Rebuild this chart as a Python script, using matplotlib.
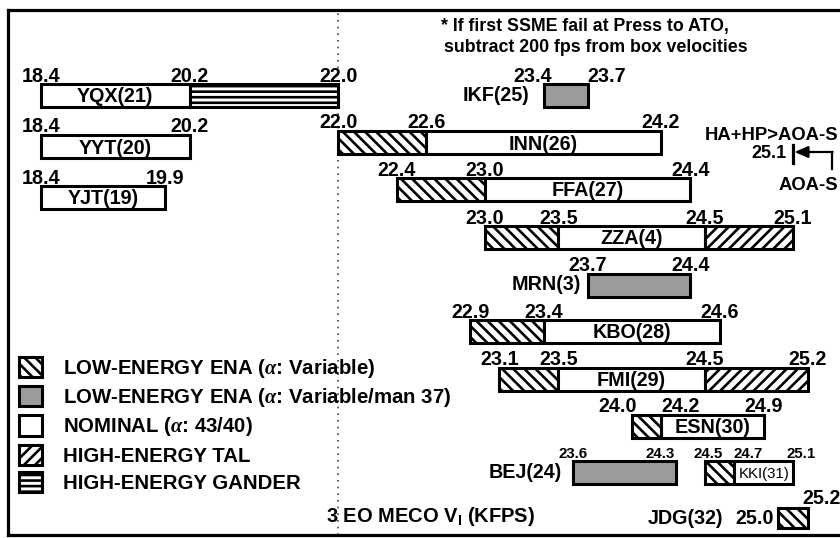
import numpy as np
import matplotlib
matplotlib.use("Agg")
import matplotlib.pyplot as plt
from matplotlib.patches import Patch

# ---------------------------------------------------------------------------
# Data: landing sites, velocity boundaries (kfps) and the option of each span
# ---------------------------------------------------------------------------

sites = ["YQX(21)", "YYT(20)", "YJT(19)", "IKF(25)", "INN(26)", "FFA(27)",
         "ZZA(4)", "MRN(3)", "KBO(28)", "FMI(29)", "ESN(30)", "BEJ(24)",
         "KKI(31)", "JDG(32)"]

bounds = [
    [18.4, 20.2, 22.0],
    [18.4, 20.2],
    [18.4, 19.9],
    [23.4, 23.7],
    [22.0, 22.6, 24.2],
    [22.4, 23.0, 24.4],
    [23.0, 23.5, 24.5, 25.1],
    [23.7, 24.4],
    [22.9, 23.4, 24.6],
    [23.1, 23.5, 24.5, 25.2],
    [24.0, 24.2, 24.9],
    [23.6, 24.3],
    [24.5, 24.7, 25.1],
    [25.0, 25.2],
]

kinds = [
    ["nom", "gander"],
    ["nom"],
    ["nom"],
    ["gray"],
    ["low", "nom"],
    ["low", "nom"],
    ["low", "nom", "tal"],
    ["gray"],
    ["low", "nom"],
    ["low", "nom", "tal"],
    ["low", "nom"],
    ["gray"],
    ["low", "nom"],
    ["low"],
]

legend_labels = [
    r"LOW-ENERGY ENA ($\alpha$: Variable)",
    r"LOW-ENERGY ENA ($\alpha$: Variable/man 37)",
    r"NOMINAL ($\alpha$: 43/40)",
    "HIGH-ENERGY TAL",
    "HIGH-ENERGY GANDER",
]
legend_kinds = ["low", "gray", "nom", "tal", "gander"]

aoa_velocity = 25.1
break_velocity = 22.0

# ---------------------------------------------------------------------------
# Styling / layout
# ---------------------------------------------------------------------------

styles = {
    "nom":    dict(facecolor="white", hatch=None),
    "low":    dict(facecolor="white", hatch="\\\\\\"),
    "gray":   dict(facecolor="#9b9b9b", hatch=None),
    "tal":    dict(facecolor="white", hatch="///"),
    "gander": dict(facecolor="white", hatch="---"),
}

# vertical row centres (pixel rows of the original slide) and bar heights
row_y = [95.5, 146.5, 197.5, 95.5, 142.5, 189.5, 237.5, 285, 331.5, 379,
         426, 472.5, 472.5, 518]
bar_h = [23] * 13 + [20]
name_pos = ["in", "in", "in", "left", "in", "in", "in", "left", "in", "in",
            "in", "left", "in", "left"]
name_gap = [0, 0, 0, 14, 0, 0, 0, 7, 0, 0, 0, 11, 0, 55]
val_size = [14.2] * 11 + [10.8, 10.8, 14.2]
name_size = [14.2] * 12 + [10.8, 14.2]
# per-label horizontal nudges (points) for crowded numbers
val_dx = {
    (3, 0): -8, (3, 1): 14,
    (10, 0): -10, (10, 1): 14,
    (11, 1): -11,
    (12, 0): 2, (12, 1): 10, (12, 2): 6,
}

plt.rcParams["font.family"] = ["Liberation Sans", "DejaVu Sans"]
plt.rcParams["font.weight"] = "bold"
plt.rcParams["mathtext.fontset"] = "custom"
plt.rcParams["mathtext.rm"] = "Liberation Sans:bold"
plt.rcParams["mathtext.bf"] = "Liberation Sans:bold"
plt.rcParams["mathtext.it"] = "Liberation Serif:italic"
plt.rcParams["hatch.linewidth"] = 1.9

K = 82.5 / 146.8   # compression of the axis left of 22.0 kfps


def fwd(v):
    v = np.asarray(v, dtype=float)
    return np.where(v < break_velocity, break_velocity + (v - break_velocity) * K, v)


def inv(u):
    u = np.asarray(u, dtype=float)
    return np.where(u < break_velocity, break_velocity + (u - break_velocity) / K, u)


def px_x(px):
    """Horizontal pixel of the slide -> velocity (right of the break)."""
    return break_velocity + (px - 338) / 146.8


W, H = 840, 538
fig = plt.figure(figsize=(W / 100, H / 100), dpi=100)
fig.patch.set_facecolor("white")
ax = fig.add_axes([8 / W, 3 / H, 1.0, 525 / H])
ax.set_xscale("function", functions=(fwd, inv))
ax.set_xlim(18.0, 25.474)
ax.set_ylim(535, 10)
ax.set_xticks([])
ax.set_yticks([])
ax.minorticks_off()
for side in ["left", "top", "bottom"]:
    ax.spines[side].set_linewidth(2.3)
ax.spines["right"].set_visible(False)

ax.axvline(break_velocity, color="#444444", lw=1.2, ls=(0, (1, 3)), zorder=0)

# ---------------------------------------------------------------------------
# Bars
# ---------------------------------------------------------------------------

for i, name in enumerate(sites):
    b = bounds[i]
    y = row_y[i]
    h = bar_h[i]
    for j, kind in enumerate(kinds[i]):
        st = styles[kind]
        ax.barh(y, b[j + 1] - b[j], left=b[j], height=h,
                facecolor=st["facecolor"], hatch=st["hatch"],
                edgecolor="black", linewidth=2.2, zorder=2)

    # velocity numbers above the bar
    if i != len(sites) - 1:
        for j, v in enumerate(b):
            ax.annotate(f"{v:.1f}", (v, y - h / 2),
                        xytext=(val_dx.get((i, j), 0), 2.5 if val_size[i] < 12 else 1.8),
                        textcoords="offset points", ha="center", va="baseline",
                        fontsize=val_size[i], fontweight="bold")

    # site name
    if name_pos[i] == "in":
        k = kinds[i].index("nom")
        xc = inv((fwd(b[k]) + fwd(b[k + 1])) / 2)
        ax.text(float(xc), y + 1.5, name, ha="center", va="center",
                fontsize=name_size[i],
                fontweight="normal" if name_size[i] < 12 else "bold", zorder=3)
    else:
        ax.annotate(name, (b[0], y), xytext=(-name_gap[i] * 0.72, 0),
                    textcoords="offset points", ha="right", va="center",
                    fontsize=name_size[i], fontweight="bold")

# JDG numbers sit beside the small box
jdg = len(sites) - 1
ax.annotate(f"{bounds[jdg][0]:.1f}", (bounds[jdg][0], row_y[jdg]), xytext=(-3, 0),
            textcoords="offset points", ha="right", va="center", fontsize=14.2)
ax.annotate(f"{bounds[jdg][1]:.1f}", (bounds[jdg][1], row_y[jdg] - bar_h[jdg] / 2),
            xytext=(10, 3), textcoords="offset points", ha="center", va="baseline",
            fontsize=14.2)

# ---------------------------------------------------------------------------
# Notes and AOA-S marker
# ---------------------------------------------------------------------------

ax.text(px_x(441), 26, "* If first SSME fail at Press to ATO,",
        ha="left", va="center", fontsize=12.8)
ax.text(px_x(444), 48, "subtract 200 fps from box velocities",
        ha="left", va="center", fontsize=12.8)

ax.text(px_x(838), 135, "HA+HP>AOA-S", ha="right", va="center", fontsize=13.3)
ax.annotate(f"{aoa_velocity:.1f}", (aoa_velocity, 153), xytext=(-5, 0),
            textcoords="offset points", ha="right", va="center", fontsize=13)
ax.plot([aoa_velocity, aoa_velocity], [145, 163], color="black", lw=2.3)
elbow = px_x(832)
ax.plot([elbow, elbow], [152, 169], color="black", lw=1.6)
ax.annotate("", xy=(aoa_velocity + 0.01, 152), xytext=(elbow + 0.004, 152),
            arrowprops=dict(arrowstyle="-|>,head_length=0.8,head_width=0.35",
                            color="black", lw=1.6, shrinkA=0, shrinkB=0))
ax.text(px_x(838), 185, "AOA-S", ha="right", va="center", fontsize=13.3)

ax.text(px_x(431), 516, r"3 EO MECO V$_\mathrm{I}$ (KFPS)",
        ha="center", va="center", fontsize=14.5)

# ---------------------------------------------------------------------------
# Legend
# ---------------------------------------------------------------------------

handles = [Patch(facecolor=styles[k]["facecolor"], hatch=styles[k]["hatch"],
                 edgecolor="black", linewidth=2.2) for k in legend_kinds]
ax.legend(handles, legend_labels, loc="upper left",
          bbox_to_anchor=(11 / 840, 1 - 347 / 525), frameon=False,
          fontsize=14.7, handlelength=1.15, handleheight=1.15, handletextpad=1.0,
          labelspacing=0.3, borderaxespad=0, borderpad=0)

fig.savefig("out.png", dpi=100)
